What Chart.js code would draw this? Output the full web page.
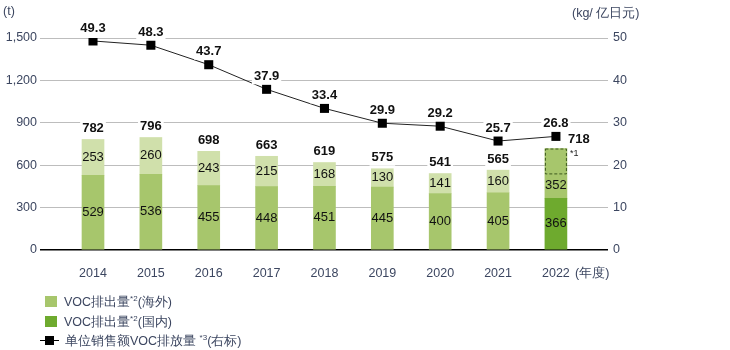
<!DOCTYPE html>
<html><head><meta charset="utf-8">
<script src="https://cdn.jsdelivr.net/npm/chart.js@4.4.1/dist/chart.umd.min.js"></script>
<style>
html,body{margin:0;padding:0;background:#fff;}
#wrap{position:relative;width:730px;height:350px;font-family:"Liberation Sans",Arial,sans-serif;}
canvas{position:absolute;left:0;top:0;}
.t{position:absolute;color:#3c4660;font-size:12.5px;white-space:nowrap;}
.lg{position:absolute;left:45px;font-size:12.5px;color:#3c4660;white-space:nowrap;line-height:14px;}
.sw{display:inline-block;width:12px;height:11px;vertical-align:-1px;margin-right:7px;}
sup{font-size:8px;vertical-align:5px;line-height:0;}
</style></head>
<body><div id="wrap"><canvas id="c" width="730" height="350"></canvas>
<div class="t" style="left:3px;top:4px;">(t)</div>
<div class="t" style="left:572px;top:5px;">(kg/ 亿日元)</div>
<div class="t" style="left:575px;top:265px;">(年度)</div>
<div class="lg" style="top:295px;"><span class="sw" style="background:#a7c66c"></span>VOC排出量<sup>*2</sup>(海外)</div>
<div class="lg" style="top:315px;"><span class="sw" style="background:#6eaa2e"></span>VOC排出量<sup>*2</sup>(国内)</div>
<div class="lg" style="top:334px;left:40px;"><span style="display:inline-block;position:relative;width:19px;height:11px;margin-right:6px;vertical-align:-1px;"><span style="position:absolute;left:0;top:5px;width:19px;height:1px;background:#000"></span><span style="position:absolute;left:5px;top:1px;width:9px;height:9px;background:#000"></span></span>单位销售额VOC排放量 <sup>*3</sup>(右标)</div>
</div>
<script>
const years = ['2014','2015','2016','2017','2018','2019','2020','2021','2022'];
const lowerSeg = [529, 536, 455, 448, 451, 445, 400, 405, 366];
const upperSeg = [253, 260, 243, 215, 168, 130, 141, 160, 352];
const totals = [782, 796, 698, 663, 619, 575, 541, 565, 718];
const intensity = [49.3, 48.3, 43.7, 37.9, 33.4, 29.9, 29.2, 25.7, 26.8];
const dashedPortion = [0, 0, 0, 0, 0, 0, 0, 0, 176];
const leftTicks = [0, 300, 600, 900, 1200, 1500];
const rightTicks = [0, 10, 20, 30, 40, 50];

const LIGHT = '#d0e0ab', MID = '#a7c66c', DARK = '#6eaa2e';
const last = years.length - 1;
const lowerColors = years.map((y, i) => i === last ? DARK : MID);
const upperColors = years.map((y, i) => i === last ? MID : LIGHT);
const FONT = '"Liberation Sans", Arial, sans-serif';

const labelPlugin = {
  id: 'labels',
  afterDatasetsDraw(chart) {
    const ctx = chart.ctx;
    const ys = chart.scales.y;
    const m0 = chart.getDatasetMeta(0).data;
    const m1 = chart.getDatasetMeta(1).data;
    const m2 = chart.getDatasetMeta(2).data;
    ctx.save();
    years.forEach((y, i) => {
      if (!dashedPortion[i]) return;
      const el = m1[i];
      const top = ys.getPixelForValue(totals[i]);
      const bot = ys.getPixelForValue(totals[i] - dashedPortion[i]);
      ctx.setLineDash([3, 2]);
      ctx.strokeStyle = '#3d5a1e';
      ctx.lineWidth = 1;
      ctx.strokeRect(el.x - el.width / 2 + 0.5, top + 0.5, el.width - 1, bot - top);
      ctx.setLineDash([]);
      ctx.fillStyle = '#222';
      ctx.font = '9px ' + FONT;
      ctx.textAlign = 'left';
      ctx.textBaseline = 'middle';
      ctx.fillText('*1', el.x + el.width / 2 + 3, top + 5);
    });
    ctx.textAlign = 'center';
    ctx.textBaseline = 'middle';
    ctx.font = '13px ' + FONT;
    ctx.fillStyle = '#111';
    years.forEach((y, i) => {
      const a = m0[i];
      ctx.fillText(String(lowerSeg[i]), a.x, (a.y + a.base) / 2);
      const b = m1[i];
      let top = b.y;
      if (dashedPortion[i]) top = ys.getPixelForValue(totals[i] - dashedPortion[i]);
      ctx.fillText(String(upperSeg[i]), b.x, (top + b.base) / 2);
    });
    const boxed = (txt, x, y, align) => {
      ctx.font = 'bold 13px ' + FONT;
      const w = ctx.measureText(txt).width;
      ctx.fillStyle = '#fff';
      const lx = align === 'left' ? x - 2 : x - w / 2 - 2;
      ctx.fillRect(lx, y - 8, w + 4, 16);
      ctx.fillStyle = '#111';
      ctx.textAlign = align;
      ctx.fillText(txt, x, y);
    };
    years.forEach((y, i) => {
      const b = m1[i];
      if (i === last) boxed(String(totals[i]), b.x + b.width / 2 + 1, b.y - 9, 'left');
      else boxed(String(totals[i]), b.x, b.y - 11, 'center');
      const p = m2[i];
      boxed(intensity[i].toFixed(1), p.x, p.y - 13, 'center');
    });
    ctx.restore();
  }
};

new Chart(document.getElementById('c'), {
  data: {
    datasets: [
      { type: 'bar', label: 'VOC排出量(下)', data: lowerSeg.map((v, i) => ({x: i, y: v})),
        backgroundColor: lowerColors, barThickness: 22, yAxisID: 'y', order: 2 },
      { type: 'bar', label: 'VOC排出量(上)', data: upperSeg.map((v, i) => ({x: i, y: v})),
        backgroundColor: upperColors, barThickness: 22, yAxisID: 'y', order: 2 },
      { type: 'line', label: '单位销售额VOC排放量', data: intensity.map((v, i) => ({x: i, y: v})),
        borderColor: '#222', borderWidth: 1, backgroundColor: '#000', pointStyle: 'rect',
        pointRadius: 6.4, pointBorderWidth: 0, yAxisID: 'y1', order: 1 }
    ]
  },
  options: {
    responsive: false, animation: false,
    layout: { padding: { top: 38, left: 0, right: 0, bottom: 0 } },
    plugins: { legend: { display: false }, tooltip: { enabled: false } },
    scales: {
      x: {
        type: 'linear', min: -0.916, max: 8.9, stacked: true, offset: false,
        afterBuildTicks: s => { s.ticks = years.map((y, i) => ({value: i})); },
        afterFit: s => { s.height = 100; },
        grid: { display: false, drawTicks: false },
        border: { display: false },
        ticks: { callback: v => years[v] ?? '', padding: 16, color: '#3c4660', font: { family: FONT, size: 12.5 }, maxRotation: 0, autoSkip: false }
      },
      y: {
        position: 'left', stacked: true, min: 0, max: 1500,
        afterBuildTicks: s => { s.ticks = leftTicks.map(v => ({value: v})); },
        afterFit: s => { s.width = 40; },
        grid: { color: ctx => ctx.tick.value === 0 ? '#000' : '#bdbdbd', lineWidth: ctx => ctx.tick.value === 0 ? 1.5 : 1, drawTicks: false },
        border: { display: false },
        ticks: { padding: 3, color: '#3c4660', font: { family: FONT, size: 12.5 }, callback: v => v.toLocaleString('en-US') }
      },
      y1: {
        position: 'right', min: 0, max: 50,
        afterBuildTicks: s => { s.ticks = rightTicks.map(v => ({value: v})); },
        afterFit: s => { s.width = 122; },
        grid: { display: false, drawTicks: false },
        border: { display: false },
        ticks: { padding: 5, color: '#3c4660', font: { family: FONT, size: 12.5 } }
      }
    }
  },
  plugins: [labelPlugin]
});
</script></body></html>
